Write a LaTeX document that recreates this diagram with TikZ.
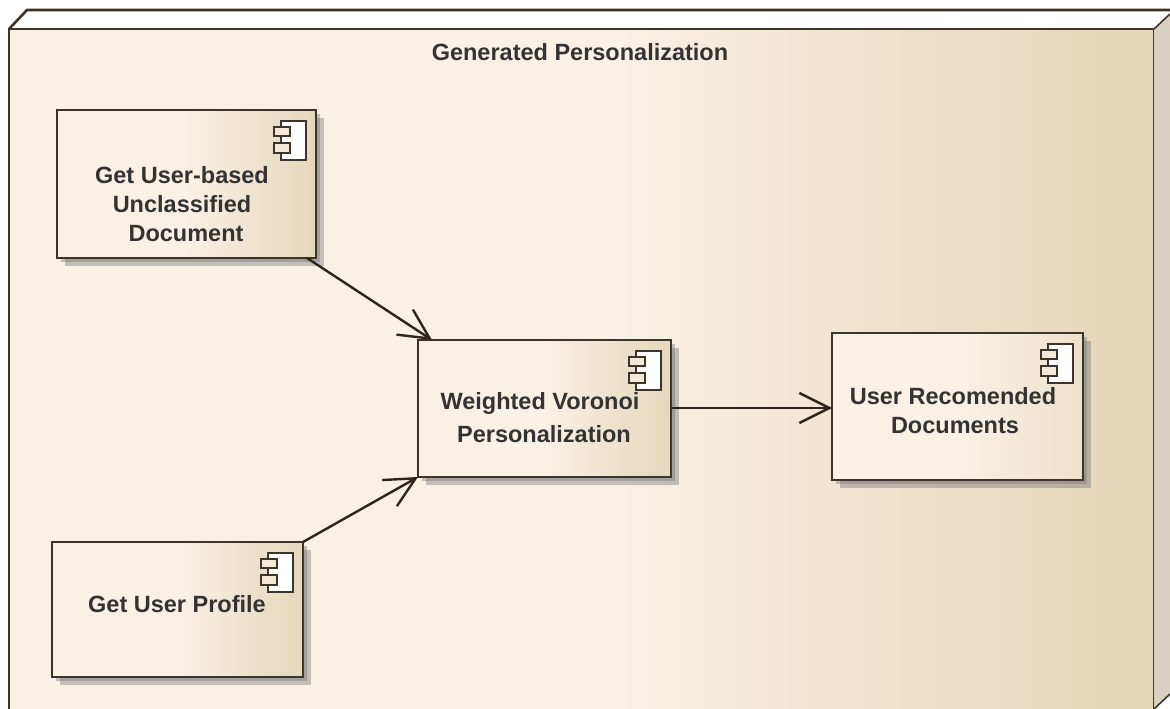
\documentclass[tikz,border=0pt]{standalone}
\usepackage{fontspec}
\setmainfont{Liberation Sans}
\usetikzlibrary{arrows.meta,shadows,calc}
\definecolor{pale}{HTML}{F9F1E4}
\definecolor{tan}{HTML}{E6D6BC}
\definecolor{softtan}{HTML}{EEE1CC}
\definecolor{ink}{HTML}{3D352A}
\definecolor{sideface}{HTML}{D8D1C1}
\pgfdeclarehorizontalshading{panelfill}{100bp}{color(0bp)=(pale); color(51.7bp)=(pale); color(72.6bp)=(tan); color(100bp)=(tan)}
\pgfdeclarehorizontalshading{boxfill}{100bp}{color(0bp)=(pale); color(50bp)=(pale); color(75bp)=(tan); color(100bp)=(tan)}
\pgfdeclarehorizontalshading{softboxfill}{100bp}{color(0bp)=(pale); color(50bp)=(pale); color(75bp)=(softtan); color(100bp)=(softtan)}
\tikzset{
  x=1pt,y=-1pt,
  frameedge/.style={draw=ink,line width=2.6pt},
  panel/.style={rectangle,anchor=north west,shading=panelfill,frameedge,inner sep=0pt,outer sep=0pt},
  compbox/.style={rectangle,anchor=north west,shading=boxfill,draw=ink,line width=2.7pt,inner sep=0pt,outer sep=0pt,
    double copy shadow={shadow xshift=4pt,shadow yshift=-4pt,opacity=.4,draw=none,fill=black!55}},
  lbl/.style={font=\fontsize{23.5}{28}\selectfont\bfseries,text=black!80,inner sep=0pt},
  flow/.style={draw=ink!70!black,line width=2.4pt,-{Straight Barb[length=30pt,width=30pt,line width=2.4pt]}},
  iconpart/.style={draw=ink,line width=2.6pt},
  compicon/.pic={
    \filldraw[iconpart,fill=white] (-35,11) rectangle (-10,50);
    \filldraw[iconpart,fill=pale!70!tan] (-42,17) rectangle (-26,26);
    \filldraw[iconpart,fill=pale!70!tan] (-42,33) rectangle (-26,43);
  }
}
\begin{document}
\begin{tikzpicture}
\useasboundingbox (0,0) rectangle (1170,709);
\clip (0,0) rectangle (1170,709);
\fill[white] (0,0) rectangle (1170,709);
% package frame
\node[panel,minimum width=1145pt,minimum height=700pt] (frame) at (9,29) {};
\coordinate (backleft) at (27,10);
\coordinate (backright) at (1170,10);
\coordinate (sidetop) at (1170,14);
\coordinate (sidebottom) at (1170,694);
\coordinate (frontbottom) at (1154,709);
\fill[sideface] (frame.north east) -- (sidetop) -- (sidebottom) -- (frontbottom) -- cycle;
\draw[frameedge] (frame.north west) -- (backleft) -- (backright);
\draw[ink,line width=1.6pt] (frame.north east) -- (sidetop);
\draw[ink,line width=1.6pt] (frontbottom) -- (sidebottom);
\node[lbl] (title) at (580,52) {Generated Personalization};
% components
\node[compbox,minimum width=259pt,minimum height=148pt] (a) at (57,110) {};
\node[compbox,minimum width=253pt,minimum height=137pt] (b) at (418,340) {};
\node[compbox,shading=softboxfill,minimum width=251pt,minimum height=147pt] (c) at (832,333) {};
\node[compbox,minimum width=251pt,minimum height=135pt] (d) at (52,542) {};
\pic at (a.north east) {compicon};
\pic at (b.north east) {compicon};
\pic at (c.north east) {compicon};
\pic at (d.north east) {compicon};
% labels
\node[lbl] (a1) at (182,175) {Get User-based};
\node[lbl] (a2) at (182,204) {Unclassified};
\node[lbl] (a3) at (186,234) {Document};
\node[lbl] (b1) at (540,403) {Weighted Voronoi};
\node[lbl] (b2) at (544,434) {Personalization};
\node[lbl] (c1) at (953,396) {User Recomended};
\node[lbl] (c2) at (955,426) {Documents};
\node[lbl] (d1) at (177,604) {Get User Profile};
% connectors
\draw[flow] ([xshift=-9pt]a.south east) -- ([xshift=14pt]b.north west);
\draw[flow] (d.north east) -- (b.south west);
\draw[flow] (b.east |- 0,408) -- (c.west |- 0,408);
\end{tikzpicture}
\end{document}
